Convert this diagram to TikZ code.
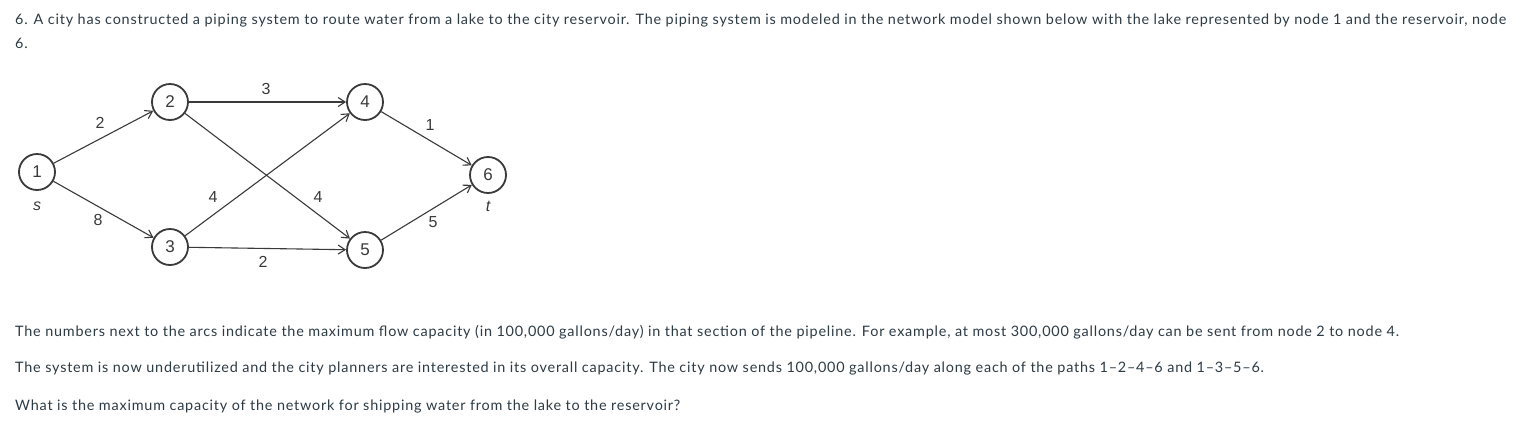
\documentclass[tikz,border=0pt]{standalone}
\usepackage{fontspec}
\setmainfont{Lato}[LetterSpace=5.5]
\newfontfamily\diagfont{Liberation Sans}
\usetikzlibrary{arrows.meta}
\definecolor{txt}{HTML}{2D3B45}
\definecolor{ink}{HTML}{3A3A3A}
\tikzset{
  vtx/.style={circle,draw=ink,line width=1.8pt,minimum size=36pt,inner sep=0pt,font=\diagfont\fontsize{17}{17}\selectfont,text=ink},
  arc/.style={draw=ink,line width=1.1pt,-{Straight Barb[length=7pt,width=9pt,line width=1.1pt]}},
  lbl/.style={font=\diagfont\fontsize{16}{16}\selectfont,text=ink,inner sep=0pt},
  ilbl/.style={font=\diagfont\itshape\fontsize{16}{16}\selectfont,text=ink,inner sep=0pt},
  para/.style={anchor=base west,inner sep=0pt,font=\fontsize{14.4}{17}\selectfont,text=txt}
}
\begin{document}
\begin{tikzpicture}[x=1pt,y=-1pt]
\useasboundingbox[fill=white] (0,0) rectangle (1532,432);
\node[para] (l1) at (15,24) {6. A city has constructed a piping system to route water from a lake to the city reservoir. The piping system is modeled in the network model shown below with the lake represented by node 1 and the reservoir, node};
\node[para] (l2) at (15,48) {6.};
\node[para] (l3) at (15,336) {The numbers next to the arcs indicate the maximum flow capacity (in 100,000 gallons/day) in that section of the pipeline. For example, at most 300,000 gallons/day can be sent from node 2 to node 4.};
\node[para] (l4) at (15,372) {The system is now underutilized and the city planners are interested in its overall capacity. The city now sends 100,000 gallons/day along each of the paths 1--2--4--6 and 1--3--5--6.};
\node[para] (l5) at (15,410) {What is the maximum capacity of the network for shipping water from the lake to the reservoir?};

\node[vtx] (n1) at (37,172) {1};
\node[vtx] (n2) at (170,102) {2};
\node[vtx] (n3) at (170,247) {3};
\node[vtx] (n4) at (365,102) {4};
\node[vtx] (n5) at (365,250) {5};
\node[vtx] (n6) at (488,175) {6};

\draw[arc] (n1) -- (n2);
\draw[arc] (n1) -- (n3);
\draw[arc] (n2) -- (n4);
\draw[arc] (n2) -- (n5);
\draw[arc] (n3) -- (n4);
\draw[arc] (n3) -- (n5);
\draw[arc] (n4) -- (n6);
\draw[arc] (n5) -- (n6);

\node[lbl] (c12) at (100,123) {2};
\node[lbl] (c13) at (98,220) {8};
\node[lbl] (c24) at (266,89) {3};
\node[lbl] (c34) at (213,197) {4};
\node[lbl] (c25) at (318,197) {4};
\node[lbl] (c35) at (263,262) {2};
\node[lbl] (c46) at (430,125) {1};
\node[lbl] (c56) at (433,222) {5};
\node[ilbl] (s) at (37,206) {s};
\node[ilbl] (t) at (488,206) {t};
\end{tikzpicture}
\end{document}
